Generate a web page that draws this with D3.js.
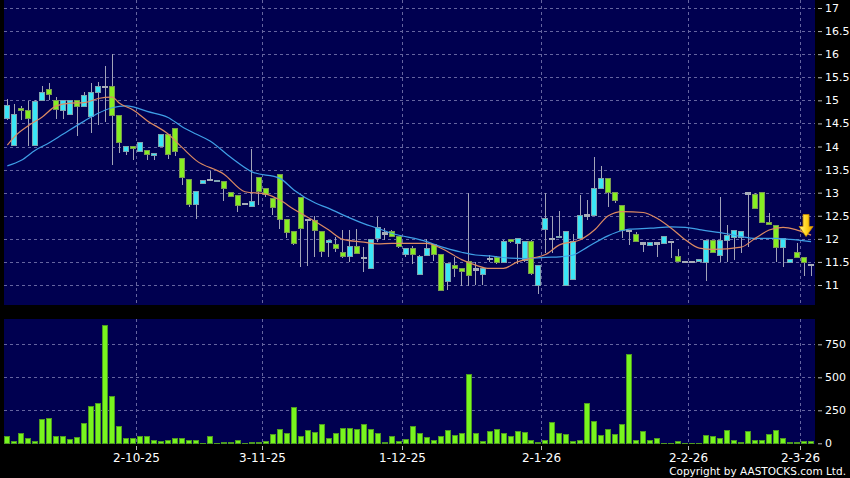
<!DOCTYPE html>
<html>
<head>
<meta charset="utf-8">
<script src="https://cdn.jsdelivr.net/npm/d3@7"></script>
<style>
    html, body { margin: 0; padding: 0; background: #000; }
    svg { display: block; font-family: "DejaVu Sans", sans-serif; }
</style>
</head>
<body>
<svg id="chart" width="850" height="478"></svg>
<script>
// daily candles, oldest first
const opens = [14.61, 14.02, 14.83, 14.77, 14.02, 14.99, 15.24, 14.99, 14.79, 14.70, 14.99, 14.86, 14.65, 15.17, 15.30, 15.31, 14.68, 13.90, 14.00, 13.90,
    13.92, 13.81, 14.01, 14.25, 14.39, 13.74, 13.29, 12.75, 13.20, 13.29, 13.25, 13.25, 13.01, 12.93, 12.77, 12.71, 13.33, 13.09, 12.88, 13.40,
    12.42, 12.16, 12.90, 12.42, 12.40, 12.16, 11.93, 11.88, 11.70, 11.62, 11.83, 11.60, 11.36, 12.01, 12.13, 12.15, 12.06, 11.65, 11.79, 11.22,
    11.63, 11.88, 11.67, 11.07, 11.43, 11.36, 11.50, 11.35, 11.22, 11.58, 11.60, 11.49, 11.99, 11.90, 11.54, 11.94, 10.99, 12.21, 12.01, 12.04,
    10.98, 11.11, 12.01, 12.52, 12.50, 13.09, 13.31, 13.01, 12.72, 12.19, 12.10, 11.92, 11.86, 11.92, 11.90, 11.95, 11.61, 11.51, 11.51, 11.51,
    11.49, 11.97, 11.63, 11.97, 12.03, 12.03, 13.00, 12.97, 13.00, 12.36, 12.28, 11.82, 11.49, 11.71, 11.60, 11.45];
const highs = [15.02, 14.91, 14.88, 14.99, 15.00, 15.30, 15.37, 15.07, 15.00, 15.00, 15.00, 15.18, 15.37, 15.39, 15.74, 16.00, 14.68, 14.00, 14.01, 14.09,
    13.92, 13.86, 14.27, 14.25, 14.39, 13.74, 13.29, 13.02, 13.27, 13.48, 13.28, 13.25, 13.01, 12.93, 12.78, 13.94, 13.33, 13.09, 12.88, 13.40,
    12.42, 12.16, 12.90, 12.42, 12.50, 12.16, 11.97, 12.05, 12.19, 12.19, 12.21, 11.82, 11.99, 12.47, 12.23, 12.20, 12.06, 11.79, 11.84, 11.66,
    11.99, 11.88, 11.67, 11.47, 11.61, 11.36, 12.99, 11.50, 11.40, 11.66, 11.62, 11.97, 12.00, 12.01, 11.96, 11.97, 11.43, 12.99, 12.49, 12.60,
    12.15, 12.10, 12.95, 12.84, 13.78, 13.58, 13.31, 13.01, 12.72, 12.20, 12.15, 11.93, 11.92, 11.92, 12.05, 11.96, 11.78, 11.51, 11.51, 11.56,
    11.97, 11.97, 12.91, 12.30, 12.17, 12.15, 13.00, 13.00, 13.00, 12.57, 12.28, 12.01, 11.56, 11.92, 11.60, 11.45];
const lows = [14.57, 14.01, 14.57, 14.01, 14.01, 14.98, 15.00, 14.60, 14.60, 14.68, 14.23, 14.85, 14.30, 14.47, 14.53, 13.60, 13.87, 13.81, 13.71, 13.88,
    13.71, 13.71, 13.98, 13.72, 13.80, 13.17, 12.70, 12.44, 13.20, 13.25, 13.24, 12.83, 12.90, 12.59, 12.75, 12.70, 12.73, 12.90, 12.52, 12.21,
    12.01, 11.86, 11.38, 11.41, 11.61, 11.60, 11.60, 11.72, 11.59, 11.50, 11.67, 11.28, 11.36, 11.94, 11.97, 12.05, 11.80, 11.60, 11.46, 11.22,
    11.62, 11.51, 10.89, 10.89, 11.18, 10.98, 10.98, 11.00, 11.00, 11.50, 11.45, 11.49, 11.90, 11.45, 11.50, 11.22, 10.81, 11.69, 11.69, 12.04,
    10.98, 11.11, 12.01, 12.41, 12.50, 13.09, 12.70, 12.78, 12.01, 11.87, 11.94, 11.71, 11.86, 11.60, 11.90, 11.58, 11.51, 11.51, 11.51, 11.51,
    11.09, 11.70, 11.50, 11.50, 11.54, 11.70, 11.83, 12.66, 12.36, 12.30, 11.49, 11.40, 11.49, 11.60, 11.20, 11.20];
const closes = [14.89, 14.70, 14.77, 14.61, 14.98, 15.17, 15.13, 14.81, 14.99, 14.99, 14.86, 15.11, 15.17, 15.30, 15.30, 14.68, 14.08, 14.00, 13.98, 14.09,
    13.82, 13.85, 14.26, 13.83, 13.89, 13.33, 12.75, 13.02, 13.27, 13.29, 13.27, 13.09, 12.91, 12.73, 12.77, 12.81, 13.02, 12.97, 12.68, 12.42,
    12.14, 11.89, 12.22, 12.42, 12.17, 11.73, 11.97, 11.79, 11.62, 11.83, 11.69, 11.60, 11.99, 12.24, 12.13, 12.06, 11.84, 11.79, 11.67, 11.61,
    11.79, 11.67, 10.89, 11.47, 11.36, 11.30, 11.20, 11.35, 11.35, 11.58, 11.49, 11.94, 11.94, 12.00, 11.94, 11.24, 11.43, 12.44, 12.01, 12.06,
    12.15, 11.94, 12.51, 12.52, 13.09, 13.31, 13.01, 12.84, 12.19, 12.19, 11.94, 11.92, 11.92, 11.92, 12.05, 11.95, 11.51, 11.51, 11.51, 11.56,
    11.97, 11.70, 11.97, 12.08, 12.17, 12.15, 13.00, 12.66, 12.36, 12.30, 11.82, 12.01, 11.56, 11.60, 11.49, 11.45];
const volumes = [50, 15, 76, 33, 13, 179, 187, 48, 48, 30, 45, 149, 280, 300, 894, 356, 126, 33, 33, 53,
    53, 18, 15, 23, 33, 38, 25, 20, 2, 53, 2, 8, 5, 20, 2, 5, 8, 13, 68, 106,
    78, 275, 53, 98, 81, 144, 38, 71, 109, 109, 101, 144, 101, 76, 5, 48, 13, 28, 124, 73,
    43, 18, 53, 98, 61, 73, 518, 71, 13, 86, 104, 71, 48, 86, 83, 25, 8, 25, 157, 78,
    63, 10, 25, 298, 162, 56, 106, 63, 144, 672, 18, 93, 18, 33, 2, 2, 10, 2, 2, 2,
    56, 53, 40, 96, 20, 5, 86, 25, 25, 63, 98, 33, 8, 5, 15, 15];

// moving averages: [candle index, price]
const maFast = [[0, 14.03], [1, 14.21], [3, 14.45], [5, 14.64], [7, 14.88], [9, 14.94], [11, 14.95], [13, 15.04], [15, 15.07], [16, 14.94],
    [18, 14.79], [20, 14.56], [23, 14.27], [25, 13.98], [27, 13.70], [31, 13.40], [34, 13.02], [37, 12.97], [39, 12.84], [41, 12.64],
    [44, 12.38], [46, 12.19], [48, 11.99], [51, 11.93], [53, 11.89], [55, 11.90], [60, 11.90], [62, 11.80], [65, 11.55], [67, 11.43],
    [69, 11.36], [71, 11.36], [73, 11.50], [75, 11.58], [77, 11.66], [79, 11.87], [82, 11.98], [84, 12.19], [86, 12.50], [88, 12.59],
    [91, 12.57], [93, 12.44], [95, 12.23], [97, 11.98], [99, 11.80], [101, 11.77], [105, 11.82], [107, 12.01], [109, 12.19], [111, 12.25],
    [113, 12.19], [115, 12.08]];
const maSlow = [[0, 13.58], [2, 13.70], [4, 13.92], [6, 14.08], [8, 14.27], [11, 14.55], [13, 14.72], [15, 14.84], [17, 14.88], [18, 14.86],
    [20, 14.76], [23, 14.63], [25, 14.43], [27, 14.27], [29, 14.12], [32, 13.76], [35, 13.45], [39, 13.31], [41, 13.06], [44, 12.78],
    [46, 12.66], [48, 12.52], [51, 12.33], [53, 12.23], [55, 12.12], [60, 11.94], [62, 11.83], [65, 11.71], [67, 11.65], [69, 11.63],
    [72, 11.58], [74, 11.57], [77, 11.60], [79, 11.61], [81, 11.65], [83, 11.82], [86, 12.07], [88, 12.18], [89, 12.21], [92, 12.23],
    [95, 12.26], [97, 12.25], [99, 12.20], [103, 12.11], [105, 12.05], [107, 12.01], [110, 12.01], [112, 11.99], [115, 11.94]];

const priceTicks = [11, 11.5, 12, 12.5, 13, 13.5, 14, 14.5, 15, 15.5, 16, 16.5, 17];
const volumeTicks = [0, 250, 500, 750];
const dateTickIdx = [18, 36, 56, 76, 97, 113];
const dateTickText = ['2-10-25', '3-11-25', '1-12-25', '2-1-26', '2-2-26', '2-3-26'];
const arrowPrice = 12.05;

const n = closes.length;
const panelLeft = 4;
const panelRight = 815;
const mainTop = 0;
const mainBottom = 305;
const volTop = 319;
const volBottom = 444;

const cyan = '#3ae6f6';
const lime = '#86ee22';
const gridColor = '#6565a0';

const svg = d3.select('#chart');

const x = d3.scaleBand()
    .domain(d3.range(n))
    .range([4.33, 814.05])
    .paddingInner(0.1417);
const bw = x.bandwidth();
const xMid = i => x(i) + bw / 2;
const xEdge = i => Math.round(x(i) + bw) + 0.5;

const yPrice = d3.scaleLinear().domain([11, 17]).range([285, 8]);
const yVol = d3.scaleLinear().domain([0, 750]).range([443.3, 344.3]);

// panels
svg.append('rect')
    .attr('x', panelLeft).attr('y', mainTop)
    .attr('width', panelRight - panelLeft).attr('height', mainBottom - mainTop)
    .attr('fill', '#000050');
svg.append('rect')
    .attr('x', panelLeft).attr('y', volTop)
    .attr('width', panelRight - panelLeft).attr('height', volBottom - volTop)
    .attr('fill', '#000050');

// grid
const grid = svg.append('g')
    .attr('stroke', gridColor)
    .attr('stroke-dasharray', '3,3')
    .attr('stroke-width', 1);

grid.selectAll('line.hp')
    .data(priceTicks)
    .join('line')
    .attr('class', 'hp')
    .attr('x1', panelLeft).attr('x2', panelRight)
    .attr('y1', d => Math.round(yPrice(d)) + 0.5)
    .attr('y2', d => Math.round(yPrice(d)) + 0.5);

grid.selectAll('line.hv')
    .data(volumeTicks.filter(d => d > 0))
    .join('line')
    .attr('class', 'hv')
    .attr('x1', panelLeft).attr('x2', panelRight)
    .attr('y1', d => Math.round(yVol(d)) + 0.5)
    .attr('y2', d => Math.round(yVol(d)) + 0.5);

grid.selectAll('line.vm')
    .data(dateTickIdx)
    .join('line')
    .attr('class', 'vm')
    .attr('x1', xEdge).attr('x2', xEdge)
    .attr('y1', mainTop).attr('y2', mainBottom);

grid.selectAll('line.vv')
    .data(dateTickIdx)
    .join('line')
    .attr('class', 'vv')
    .attr('x1', xEdge).attr('x2', xEdge)
    .attr('y1', volTop).attr('y2', volBottom - 1);

// candles
const candles = d3.range(n).map(i => ({
    i,
    o: opens[i],
    h: highs[i],
    l: lows[i],
    c: closes[i],
}));

const candleG = svg.append('g').attr('shape-rendering', 'crispEdges');

candleG.selectAll('line')
    .data(candles)
    .join('line')
    .attr('x1', d => Math.floor(xMid(d.i)) + 0.5)
    .attr('x2', d => Math.floor(xMid(d.i)) + 0.5)
    .attr('y1', d => yPrice(d.h))
    .attr('y2', d => yPrice(d.l))
    .attr('stroke', '#a2a4b8')
    .attr('stroke-width', 1);

candleG.selectAll('rect')
    .data(candles)
    .join('rect')
    .attr('x', d => x(d.i) + 0.5)
    .attr('width', bw - 1)
    .attr('y', d => yPrice(Math.max(d.o, d.c)))
    .attr('height', d => Math.max(1.5, Math.abs(yPrice(d.o) - yPrice(d.c))))
    .attr('fill', d => d.c > d.o ? cyan : d.c < d.o ? lime : '#a7adb8')
    .attr('stroke', d => d.c > d.o ? '#7fa4b0' : d.c < d.o ? '#7b9a52' : '#a7adb8')
    .attr('stroke-width', 1);

// moving averages
const maLine = d3.line()
    .x(d => xMid(d[0]))
    .y(d => yPrice(d[1]))
    .curve(d3.curveMonotoneX);

svg.append('path')
    .datum(maSlow)
    .attr('d', maLine)
    .attr('fill', 'none')
    .attr('stroke', '#3f9fe6')
    .attr('stroke-width', 1.2);

svg.append('path')
    .datum(maFast)
    .attr('d', maLine)
    .attr('fill', 'none')
    .attr('stroke', '#dc8a62')
    .attr('stroke-width', 1.2);

// volume bars
svg.append('g')
    .attr('shape-rendering', 'crispEdges')
    .selectAll('rect')
    .data(volumes)
    .join('rect')
    .attr('x', (d, i) => x(i) + 0.5)
    .attr('width', bw - 1)
    .attr('y', d => yVol(d))
    .attr('height', d => Math.max(0.5, yVol(0) - yVol(d)))
    .attr('fill', '#78f51e')
    .attr('stroke', '#4e9a22')
    .attr('stroke-width', 1);

// arrow marker on the latest bar
const defs = svg.append('defs');
const grad = defs.append('linearGradient')
    .attr('id', 'arrowFill')
    .attr('x1', 0).attr('x2', 1).attr('y1', 0).attr('y2', 0);
grad.append('stop').attr('offset', '0%').attr('stop-color', '#fff48a');
grad.append('stop').attr('offset', '55%').attr('stop-color', '#ffd21a');
grad.append('stop').attr('offset', '100%').attr('stop-color', '#e6a000');

const ax = xMid(n - 2) + 2;
const ay = yPrice(arrowPrice);
svg.append('path')
    .attr('d', `M${ax - 3},${ay - 22} L${ax + 3},${ay - 22} L${ax + 3},${ay - 10} L${ax + 7},${ay - 10} L${ax},${ay} L${ax - 7},${ay - 10} L${ax - 3},${ay - 10} Z`)
    .attr('fill', 'url(#arrowFill)')
    .attr('stroke', '#c98a00')
    .attr('stroke-width', 0.8);

// right axes
const priceAxis = svg.append('g')
    .attr('transform', `translate(${panelRight + 3},0)`)
    .call(d3.axisRight(yPrice).tickValues(priceTicks).tickSize(4).tickPadding(3).tickFormat(d => String(d)));

const volAxis = svg.append('g')
    .attr('transform', `translate(${panelRight + 3},0)`)
    .call(d3.axisRight(yVol).tickValues(volumeTicks).tickSize(4).tickPadding(3).tickFormat(d => String(d)));

[priceAxis, volAxis].forEach(g => {
    g.select('.domain').remove();
    g.selectAll('line').attr('stroke', '#bbbbbb');
    g.selectAll('text')
        .attr('fill', '#ffffff')
        .attr('font-size', 11)
        .attr('font-family', '"DejaVu Sans", sans-serif');
});

// date ticks
const dateG = svg.append('g');
dateG.selectAll('line')
    .data(dateTickIdx)
    .join('line')
    .attr('x1', xEdge).attr('x2', xEdge)
    .attr('y1', 446).attr('y2', 450)
    .attr('stroke', '#bbbbbb');
dateG.selectAll('text')
    .data(dateTickIdx)
    .join('text')
    .attr('x', xEdge)
    .attr('y', 462)
    .attr('text-anchor', 'middle')
    .attr('fill', '#ffffff')
    .attr('font-size', 12)
    .text((d, k) => dateTickText[k]);

svg.append('text')
    .attr('x', 846)
    .attr('y', 475)
    .attr('text-anchor', 'end')
    .attr('fill', '#ffffff')
    .attr('font-size', 10.5)
    .text('Copyright by AASTOCKS.com Ltd.');
</script>
</body>
</html>
